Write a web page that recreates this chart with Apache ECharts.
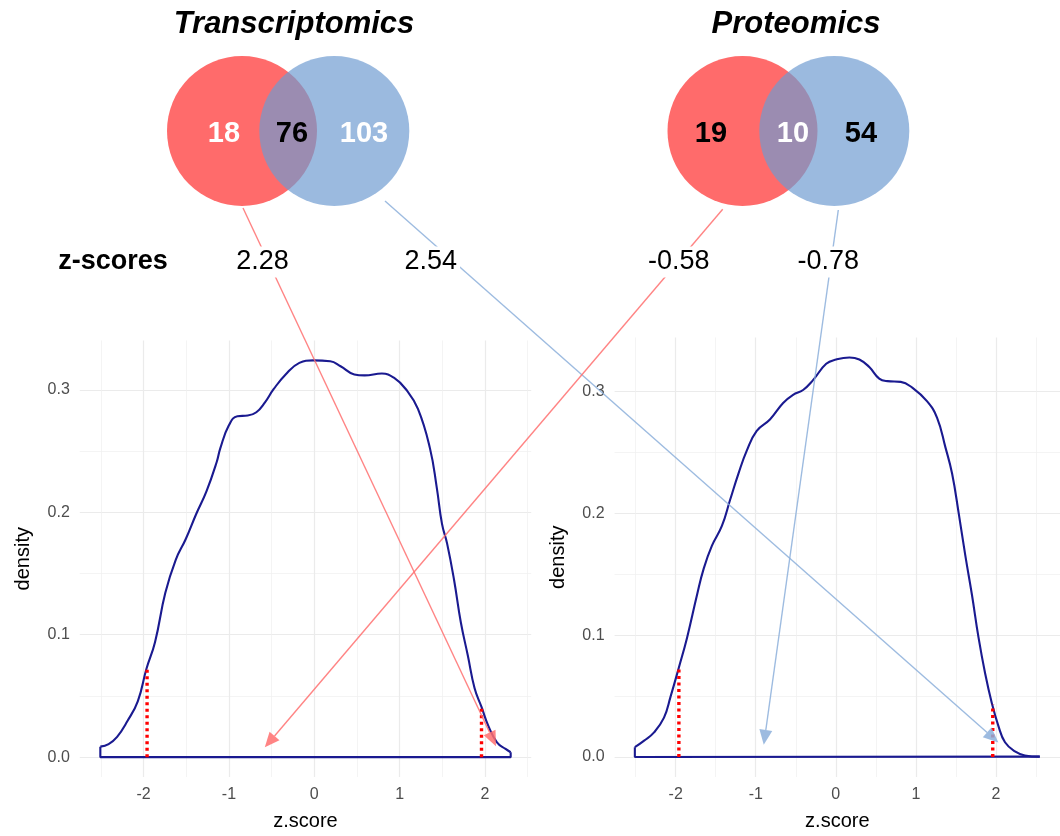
<!DOCTYPE html>
<html>
<head>
<meta charset="utf-8">
<script src="https://cdn.jsdelivr.net/npm/echarts@6/dist/echarts.min.js"></script>
<style>
  html, body { margin: 0; padding: 0; background: #fff; }
  #chart { width: 1060px; height: 836px; }
</style>
</head>
<body>
<div id="chart"></div>
<script>
// density of z-scores, left panel
const leftZ = [-2.508, -2.411, -2.311, -2.190, -2.069, -1.968, -1.867, -1.746, -1.625, -1.505, -1.384, -1.263, -1.142, -1.102, -1.001,
  -0.901, -0.780, -0.679, -0.578, -0.477, -0.336, -0.175, -0.014, 0.187, 0.308, 0.469, 0.590, 0.792, 0.933, 1.074, 1.215, 1.356,
  1.436, 1.497, 1.557, 1.638, 1.718, 1.799, 1.879, 1.960, 2.040, 2.141, 2.242, 2.302];
const leftDensity = [0.0086, 0.0107, 0.0166, 0.0295, 0.0456, 0.0720, 0.0939, 0.1342, 0.1610, 0.1784, 0.1986, 0.2173, 0.2415, 0.2522, 0.2710,
  0.2785, 0.2790, 0.2817, 0.2898, 0.3005, 0.3126, 0.3220, 0.3241, 0.3233, 0.3193, 0.3126, 0.3118, 0.3134, 0.3099, 0.3005, 0.2844, 0.2522,
  0.2200, 0.1905, 0.1744, 0.1449, 0.1100, 0.0832, 0.0563, 0.0410, 0.0255, 0.0121, 0.0067, 0.0040];

// density of z-scores, right panel
const rightZ = [-2.510, -2.394, -2.270, -2.146, -2.063, -1.960, -1.857, -1.733, -1.650, -1.547, -1.423, -1.320, -1.216, -1.112, -0.988,
  -0.823, -0.658, -0.534, -0.409, -0.285, -0.120, 0.004, 0.170, 0.294, 0.418, 0.542, 0.645, 0.811, 0.955, 1.141, 1.265, 1.369,
  1.452, 1.534, 1.617, 1.700, 1.782, 1.865, 1.948, 2.030, 2.113, 2.237, 2.361, 2.547];
const rightDensity = [0.0081, 0.0135, 0.0202, 0.0323, 0.0498, 0.0735, 0.0982, 0.1332, 0.1547, 0.1735, 0.1897, 0.2112, 0.2327, 0.2515, 0.2677,
  0.2771, 0.2906, 0.2973, 0.3013, 0.3094, 0.3228, 0.3263, 0.3280, 0.3263, 0.3202, 0.3107, 0.3086, 0.3080, 0.3032, 0.2919, 0.2785, 0.2542,
  0.2327, 0.2004, 0.1655, 0.1332, 0.0982, 0.0686, 0.0444, 0.0256, 0.0121, 0.0046, 0.0013, 0.0003];

// +-1.96 cut-offs (red dotted)
const critZ = [-1.96, 1.96];
const leftCritTop = [0.0735, 0.0416];
const rightCritTop = [0.0745, 0.043];

const xMajorTicks = [-2, -1, 0, 1, 2];
const xMinorTicks = [-2.5, -1.5, -0.5, 0.5, 1.5, 2.5];
const yMajorTicks = [0, 0.1, 0.2, 0.3];
const yMinorTicks = [0.05, 0.15, 0.25];

const vennTitles = ['Transcriptomics', 'Proteomics'];
const vennCounts = [[18, 76, 103], [19, 10, 54]];
const zScoreLabels = ['2.28', '2.54', '-0.58', '-0.78'];

// where each arrow lands: panel, z, density
const arrowPanel = [0, 1, 0, 1];
const arrowZ = [2.13, 2.03, -0.58, -0.90];
const arrowDensity = [0.009, 0.012, 0.008, 0.010];

const FONT = '"Liberation Sans", Arial, sans-serif';
const RED = '#FF6B6B';
const BLUE = 'rgba(110, 155, 209, 0.69)';
const ARROW_COLORS = ['rgba(255, 110, 110, 0.85)', 'rgba(140, 175, 218, 0.85)', 'rgba(255, 110, 110, 0.85)', 'rgba(140, 175, 218, 0.85)'];

// ggplot-like 5% expansion
const expand = (lo, hi) => { const d = (hi - lo) * 0.05; return [lo - d, hi + d]; };

const panels = [
  { z: leftZ, d: leftDensity, crit: leftCritTop, grid: { left: 79.8, top: 340.5, width: 451.4, height: 442.1 } },
  { z: rightZ, d: rightDensity, crit: rightCritTop, grid: { left: 614.6, top: 337.5, width: 455, height: 446.7 } }
];

const grids = [], xAxes = [], yAxes = [], series = [];

panels.forEach((p, g) => {
  grids.push(Object.assign({ containLabel: false }, p.grid));
  const [xmin, xmax] = expand(Math.min(...p.z), Math.max(...p.z));
  const [ymin, ymax] = expand(0, Math.max(...p.d));

  xAxes.push({
    type: 'value', gridIndex: g, min: xmin, max: xmax,
    axisLine: { show: false },
    axisTick: { show: false, customValues: xMajorTicks },
    axisLabel: { customValues: xMajorTicks, color: '#4D4D4D', fontSize: 16, fontFamily: FONT, margin: 10 },
    splitLine: { show: true, lineStyle: { color: '#EBEBEB', width: 1.2 } },
    name: 'z.score', nameLocation: 'middle', nameGap: 34,
    nameTextStyle: { color: '#000', fontSize: 20, fontFamily: FONT }
  });
  xAxes.push({
    type: 'value', gridIndex: g, min: xmin, max: xmax,
    axisLine: { show: false },
    axisTick: { show: false, customValues: xMinorTicks },
    axisLabel: { show: false, customValues: xMinorTicks },
    splitLine: { show: true, lineStyle: { color: '#EFEFEF', width: 0.7 } }
  });
  yAxes.push({
    type: 'value', gridIndex: g, min: ymin, max: ymax,
    axisLine: { show: false },
    axisTick: { show: false, customValues: yMajorTicks },
    axisLabel: { customValues: yMajorTicks, color: '#4D4D4D', fontSize: 16, fontFamily: FONT, margin: 10,
      formatter: v => v.toFixed(1) },
    splitLine: { show: true, lineStyle: { color: '#EBEBEB', width: 1.2 } },
    name: 'density', nameLocation: 'middle', nameGap: 46,
    nameTextStyle: { color: '#000', fontSize: 20, fontFamily: FONT }
  });
  yAxes.push({
    type: 'value', gridIndex: g, min: ymin, max: ymax,
    axisLine: { show: false },
    axisTick: { show: false, customValues: yMinorTicks },
    axisLabel: { show: false, customValues: yMinorTicks },
    splitLine: { show: true, lineStyle: { color: '#EFEFEF', width: 0.7 } }
  });

  const n = p.z.length;
  // curve
  series.push({
    type: 'line', xAxisIndex: g * 2, yAxisIndex: g * 2,
    data: p.z.map((z, i) => [z, p.d[i]]),
    showSymbol: false, smooth: 0.45,
    lineStyle: { color: '#1A1A90', width: 2.1 }, silent: true, z: 3
  });
  // closing edges + baseline
  series.push({
    type: 'line', xAxisIndex: g * 2, yAxisIndex: g * 2,
    data: [[p.z[n - 1], p.d[n - 1]], [p.z[n - 1], 0], [p.z[0], 0], [p.z[0], p.d[0]]],
    showSymbol: false, lineStyle: { color: '#1A1A90', width: 2.1 }, silent: true, z: 3
  });
  // red dotted cut-offs
  critZ.forEach((cz, k) => {
    series.push({
      type: 'line', xAxisIndex: g * 2, yAxisIndex: g * 2,
      data: [[cz, 0], [cz, p.crit[k]]],
      showSymbol: false, lineStyle: { color: '#FF0000', width: 3.4, type: [3, 3.5] }, silent: true, z: 4
    });
  });
});

const chart = echarts.init(document.getElementById('chart'));
chart.setOption({
  animation: false,
  backgroundColor: '#fff',
  grid: grids, xAxis: xAxes, yAxis: yAxes, series: series
});

// venn diagrams, z-score row and arrows (annotation layer)
const vennLayout = [
  { titleX: 294, redX: 242, blueX: 334.3, numX: [224, 292, 364], numColor: ['#fff', '#000', '#fff'] },
  { titleX: 796, redX: 742.5, blueX: 834.3, numX: [711, 793, 861], numColor: ['#000', '#fff', '#000'] }
];
const vennCy = 131, vennR = 75;
const zRowY = 262;
const zLabelX = [262.5, 430.8, 678.8, 828.3];
const arrowStart = [[243, 208], [385, 201], [722.7, 209.3], [838.3, 210]];

const txt = (x, y, text, font, fill, extra) => ({
  type: 'text', x, y, z: 20,
  style: Object.assign({ text, font, fill, align: 'center', verticalAlign: 'middle',
    textAlign: 'center', textVerticalAlign: 'middle' }, extra || {})
});

const graphic = [];
vennLayout.forEach((v, i) => {
  graphic.push(txt(v.titleX, 24, vennTitles[i], 'italic bold 31px ' + FONT, '#000'));
  graphic.push({ type: 'circle', z: 10, shape: { cx: v.redX, cy: vennCy, r: vennR }, style: { fill: RED } });
  graphic.push({ type: 'circle', z: 11, shape: { cx: v.blueX, cy: vennCy, r: vennR }, style: { fill: BLUE } });
  vennCounts[i].forEach((c, j) => graphic.push(txt(v.numX[j], 134, String(c), 'bold 29px ' + FONT, v.numColor[j])));
});

graphic.push(txt(113, zRowY, 'z-scores', 'bold 27px ' + FONT, '#000'));
zScoreLabels.forEach((s, i) => {
  graphic.push(txt(zLabelX[i], zRowY, s, '27px ' + FONT, '#000', { backgroundColor: '#fff', padding: [2, 3] }));
});

arrowZ.forEach((z, i) => {
  const g = arrowPanel[i];
  const end = chart.convertToPixel({ xAxisIndex: g * 2, yAxisIndex: g * 2 }, [z, arrowDensity[i]]);
  const [sx, sy] = arrowStart[i];
  const dx = end[0] - sx, dy = end[1] - sy;
  const len = Math.hypot(dx, dy);
  const ux = dx / len, uy = dy / len;
  const headL = 15, headW = 6.5;
  const bx = end[0] - ux * headL, by = end[1] - uy * headL;
  graphic.push({
    type: 'line', z: 15,
    shape: { x1: sx, y1: sy, x2: bx, y2: by },
    style: { stroke: ARROW_COLORS[i], lineWidth: 1.4 }
  });
  graphic.push({
    type: 'polygon', z: 15,
    shape: { points: [[end[0], end[1]], [bx - uy * headW, by + ux * headW], [bx + uy * headW, by - ux * headW]] },
    style: { fill: ARROW_COLORS[i] }
  });
});

chart.setOption({ graphic: graphic });
</script>
</body>
</html>
